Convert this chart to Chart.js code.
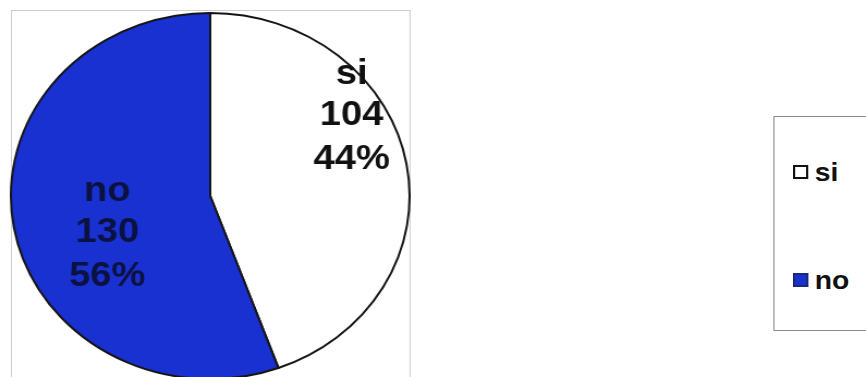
<!DOCTYPE html>
<html>
<head>
<meta charset="utf-8">
<script src="https://cdn.jsdelivr.net/npm/chart.js@4/dist/chart.umd.min.js"></script>
<style>
  html, body { margin: 0; padding: 0; background: #ffffff; overflow: hidden; }
  body { width: 866px; height: 377px; position: relative; }
  #stage {
    position: absolute; left: 0; top: 0; width: 795px; height: 377px;
    transform: scaleX(1.0893); transform-origin: 0 0;
  }
  #frame {
    position: absolute; left: 10px; top: 10px; width: 365px; height: 400px;
    border: 1px solid #cfcfcf;
  }
  #pie { position: absolute; left: 7px; top: 10px; }
  #legend {
    position: absolute; left: 710px; top: 116px; width: 120px; height: 213px;
    border: 1px solid #8a8a8a; background: #ffffff;
    font-family: "Liberation Sans", Arial, sans-serif; font-weight: bold;
    font-size: 26px; color: #111;
  }
  .item { position: absolute; left: 17px; height: 26px; line-height: 26px; white-space: nowrap; }
  .swatch { position: absolute; left: 0; top: 6px; width: 10px; height: 10px; border: 2px solid #111; box-sizing: content-box; }
  .item span.txt { position: absolute; left: 20px; top: 0; }
</style>
</head>
<body>
<div id="stage">
  <div id="frame"></div>
  <canvas id="pie" width="372" height="372"></canvas>
  <div id="legend"></div>
</div>
<script>
// Answers to the question
const categories = ['si', 'no'];
const counts = [104, 130];
const sliceColors = ['#ffffff', '#1a31d2'];
const labelColors = ['#111111', '#0c1240'];

// Where each in-slice label sits: fraction along the slice's sweep and of the radius
const labelPlacement = [
  { along: 0.36, radius: 0.84 },
  { along: 0.45, radius: 0.55 }
];

const sliceLabels = {
  id: 'sliceLabels',
  afterDatasetsDraw(chart) {
    const ctx = chart.ctx;
    const meta = chart.getDatasetMeta(0);
    const values = chart.data.datasets[0].data;
    const total = values.reduce((a, b) => a + b, 0);
    ctx.save();
    ctx.font = 'bold 35px "Liberation Sans", Arial, sans-serif';
    ctx.textAlign = 'center';
    ctx.textBaseline = 'middle';
    meta.data.forEach((arc, i) => {
      const p = arc.getProps(['x', 'y', 'startAngle', 'endAngle', 'outerRadius'], true);
      const place = labelPlacement[i];
      const a = p.startAngle + place.along * (p.endAngle - p.startAngle);
      const r = p.outerRadius * place.radius;
      const cx = p.x + Math.cos(a) * r;
      const cy = p.y + Math.sin(a) * r + 2;
      const lines = [
        chart.data.labels[i],
        String(values[i]),
        Math.round(values[i] / total * 100) + '%'
      ];
      const step = 44;
      ctx.fillStyle = labelColors[i];
      lines.forEach((t, k) => {
        ctx.fillText(t, cx, cy + (k - 1) * step + (k === 0 ? 3 : 0));
      });
    });
    ctx.restore();
  }
};

const chart = new Chart(document.getElementById('pie'), {
  type: 'pie',
  data: {
    labels: categories,
    datasets: [{
      data: counts,
      backgroundColor: sliceColors,
      borderColor: '#151515',
      borderWidth: 2
    }]
  },
  options: {
    responsive: false,
    animation: false,
    layout: { padding: 2 },
    plugins: {
      legend: { display: false },
      tooltip: { enabled: false }
    }
  },
  plugins: [sliceLabels]
});

// Legend built from the chart's own legend items
const legendEl = document.getElementById('legend');
const items = chart.options.plugins.legend.labels.generateLabels(chart);
const itemTops = [42, 150];
items.forEach((it, i) => {
  const row = document.createElement('div');
  row.className = 'item';
  row.style.top = itemTops[i] + 'px';
  const sw = document.createElement('div');
  sw.className = 'swatch';
  sw.style.background = it.fillStyle;
  sw.style.borderColor = i === 0 ? '#111111' : '#1a2a7a';
  const tx = document.createElement('span');
  tx.className = 'txt';
  tx.textContent = it.text;
  row.appendChild(sw);
  row.appendChild(tx);
  legendEl.appendChild(row);
});
</script>
</body>
</html>
